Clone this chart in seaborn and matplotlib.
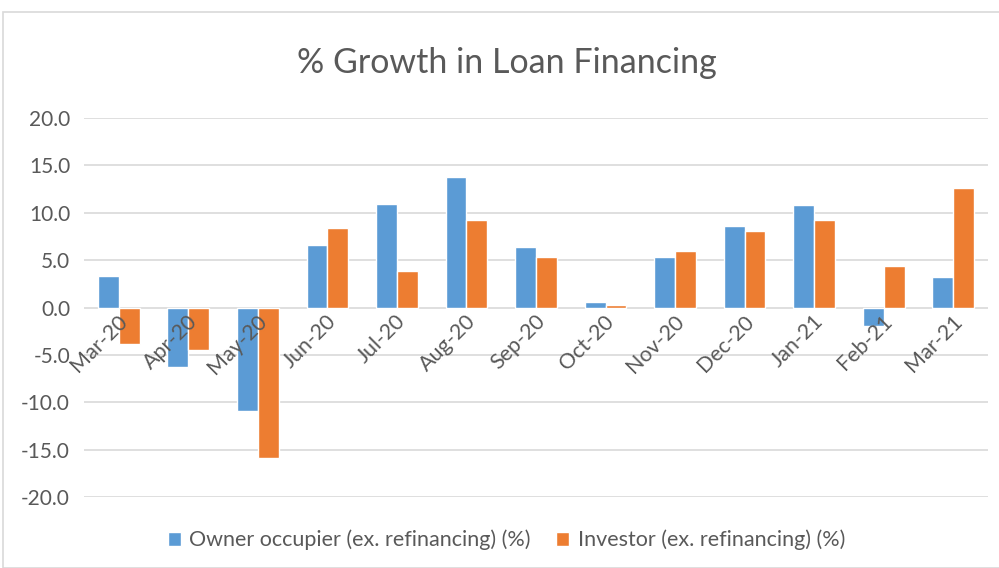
import matplotlib
matplotlib.use("Agg")
import matplotlib.pyplot as plt
import seaborn as sns
import pandas as pd
from matplotlib.patches import Rectangle

months = ["Mar-20", "Apr-20", "May-20", "Jun-20", "Jul-20", "Aug-20", "Sep-20",
          "Oct-20", "Nov-20", "Dec-20", "Jan-21", "Feb-21", "Mar-21"]
owner = [3.3, -6.3, -10.9, 6.6, 10.9, 13.8, 6.4, 0.6, 5.3, 8.6, 10.8, -1.9, 3.2]
investor = [-3.9, -4.5, -15.9, 8.4, 3.8, 9.2, 5.3, 0.3, 6.0, 8.1, 9.2, 4.4, 12.6]
series_names = ["Owner occupier (ex. refinancing) (%)", "Investor (ex. refinancing) (%)"]
y_ticks = [-20, -15, -10, -5, 0, 5, 10, 15, 20]

df = pd.DataFrame({
    "month": months * 2,
    "value": owner + investor,
    "series": [series_names[0]] * len(months) + [series_names[1]] * len(months),
})

sns.set_theme(style="white")
plt.rcParams["font.family"] = ["Lato", "DejaVu Sans"]
txt = "#595959"

fig = plt.figure(figsize=(9.99, 5.68), dpi=100)
ax = fig.add_axes([84 / 999, 1 - 497 / 568, 904 / 999, (497 - 118) / 568])

sns.barplot(data=df, x="month", y="value", hue="series", order=months,
            hue_order=series_names, palette=["#5B9BD5", "#ED7D31"],
            width=0.6, saturation=1, ax=ax, legend=True)

ax.set_xlim(-0.5, len(months) - 0.5)
ax.set_ylim(-20, 20)
ax.set_yticks(y_ticks)
ax.set_yticklabels([f"{v:.1f}" for v in y_ticks], color=txt, fontsize=15)
ax.tick_params(axis="y", length=0, pad=10)
ax.set_xticks([])
ax.set_xlabel("")
ax.set_ylabel("")
for s in ax.spines.values():
    s.set_visible(False)
ax.yaxis.grid(True, color="#D9D9D9", linewidth=1.2)
ax.set_axisbelow(True)

for i, m in enumerate(months):
    ax.text(i - 0.02, -0.4, m, rotation=45, ha="right", va="top",
            rotation_mode="anchor", color=txt, fontsize=15.5)

fig.text(0.507, 1 - 63 / 568, "% Growth in Loan Financing", ha="center", va="center",
         color=txt, fontsize=24.5)

handles, labels = ax.get_legend_handles_labels()
ax.legend_.remove()
fig.legend(handles, labels, loc="center", bbox_to_anchor=(0.507, 1 - 540 / 568),
           ncol=2, frameon=False, fontsize=15.5, labelcolor=txt,
           handlelength=0.6, handleheight=0.6, handletextpad=0.4, columnspacing=1.2)

fig.patches.append(Rectangle((3 / 999, 0), 1, 1 - 12 / 568, transform=fig.transFigure,
                             fill=False, edgecolor="#D9D9D9", linewidth=1.2))

fig.savefig("out.png", dpi=100)
